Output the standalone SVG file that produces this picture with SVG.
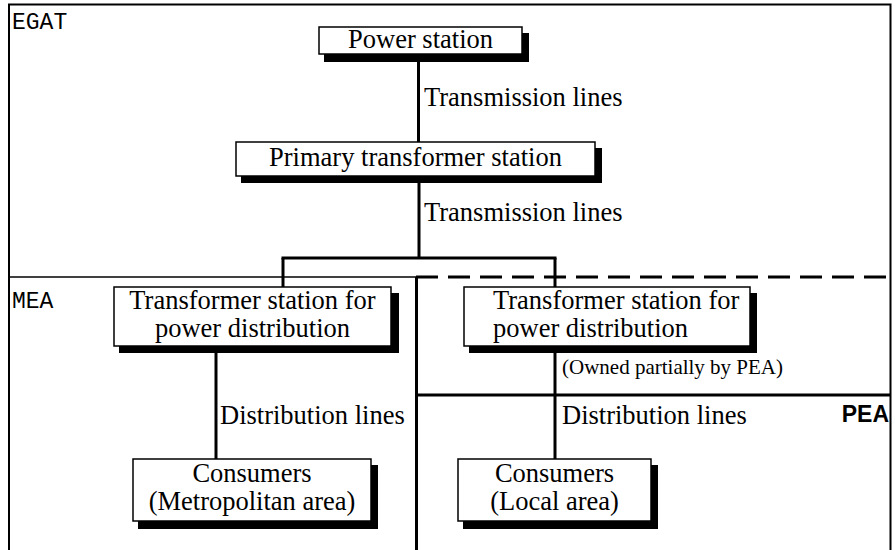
<svg xmlns="http://www.w3.org/2000/svg" width="895" height="550" viewBox="0 0 895 550">
<style>
  .frame{stroke:#000;stroke-width:2;fill:none}
  .thick{stroke:#000;stroke-width:3;fill:none}
  .dash{stroke:#000;stroke-width:3;fill:none;stroke-dasharray:22 10}
  .conn{stroke:#000;stroke-width:3;fill:none}
  .box{fill:#fff;stroke:#000;stroke-width:1.5}
  .shadow{fill:#000}
  .t{font-family:"Liberation Serif","Times New Roman",serif;font-size:26.5px;fill:#000}
  .small{font-size:21px}
  .mid{text-anchor:middle}
  .org{font-family:"Liberation Mono","DejaVu Sans Mono",monospace;font-size:23px;fill:#000}
  .pea{font-family:"Liberation Sans",Arial,sans-serif;font-size:23px;font-weight:bold;fill:#000;text-anchor:end}
</style>
<rect width="895" height="550" fill="#fff"/>
<g id="regions">
  <path class="frame" d="M9,550 V4.5 H890.5 V550"/>
  <line class="frame" x1="9" y1="277" x2="416" y2="277" style="stroke-width:1.5"/>
  <line class="dash" x1="416" y1="277" x2="890" y2="277"/>
  <line class="thick" x1="416.5" y1="277" x2="416.5" y2="550"/>
  <line class="thick" x1="416" y1="395" x2="890" y2="395"/>
  <text class="org" x="12" y="29">EGAT</text>
  <text class="org" x="12" y="308">MEA</text>
  <text class="pea" x="889" y="422">PEA</text>
</g>
<g id="connectors">
  <line class="conn" x1="418.5" y1="54" x2="418.5" y2="142"/>
  <line class="conn" x1="419" y1="176" x2="419" y2="258"/>
  <line class="conn" x1="281.5" y1="258" x2="556.5" y2="258"/>
  <line class="conn" x1="283" y1="258" x2="283" y2="287"/>
  <line class="conn" x1="555" y1="258" x2="555" y2="459"/>
  <line class="conn" x1="216" y1="346" x2="216" y2="459"/>
  <text class="t" x="424" y="106">Transmission lines</text>
  <text class="t" x="424" y="221">Transmission lines</text>
  <text class="t" x="220" y="424">Distribution lines</text>
  <text class="t" x="562" y="424">Distribution lines</text>
  <text class="t small" x="562" y="374">(Owned partially by PEA)</text>
</g>
<g id="power-station">
  <rect class="shadow" x="324" y="33" width="205" height="29"/>
  <rect class="box" x="319" y="27" width="203" height="27"/>
  <text class="t mid" x="420.5" y="48">Power station</text>
</g>
<g id="primary-transformer">
  <rect class="shadow" x="241" y="148" width="361" height="35"/>
  <rect class="box" x="236" y="142" width="359" height="34"/>
  <text class="t mid" x="415.5" y="166">Primary transformer station</text>
</g>
<g id="mea-transformer">
  <rect class="shadow" x="119" y="293" width="280" height="60"/>
  <rect class="box" x="114" y="287" width="277" height="59"/>
  <text class="t mid" x="252.5" y="309">Transformer station for</text>
  <text class="t mid" x="252.5" y="337">power distribution</text>
</g>
<g id="pea-transformer">
  <rect class="shadow" x="469" y="293" width="288" height="60"/>
  <rect class="box" x="464" y="287" width="286" height="59"/>
  <text class="t" x="493" y="309">Transformer station for</text>
  <text class="t" x="493" y="337">power distribution</text>
</g>
<g id="consumers-metro">
  <rect class="shadow" x="138" y="465" width="240" height="64"/>
  <rect class="box" x="133" y="459" width="238" height="62"/>
  <text class="t mid" x="252" y="482">Consumers</text>
  <text class="t mid" x="252" y="510">(Metropolitan area)</text>
</g>
<g id="consumers-local">
  <rect class="shadow" x="463" y="465" width="195" height="64"/>
  <rect class="box" x="458" y="459" width="193" height="62"/>
  <text class="t mid" x="554.5" y="482">Consumers</text>
  <text class="t mid" x="554.5" y="510">(Local area)</text>
</g>
</svg>
